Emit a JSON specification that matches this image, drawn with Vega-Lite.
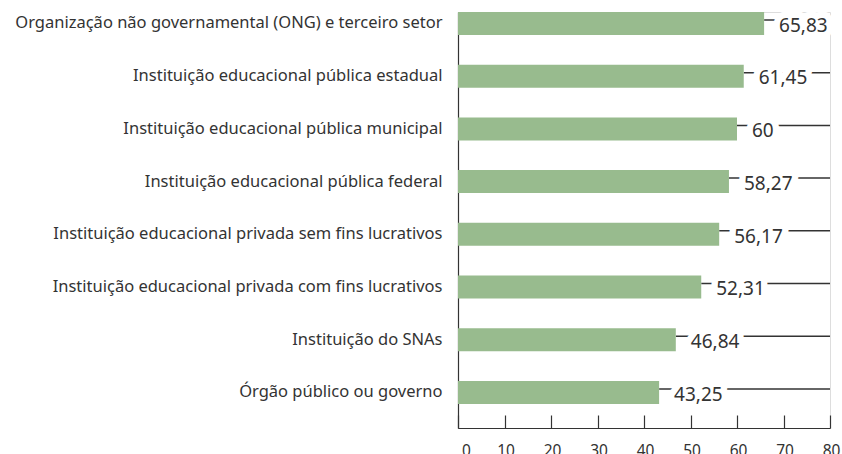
{
  "$schema": "https://vega.github.io/schema/vega-lite/v6.json",
  "autosize": {"type": "none"},
  "padding": {"left": 458, "top": 12, "right": 12, "bottom": 26},
  "width": 372,
  "height": 416,
  "background": "white",
  "data": {
    "values": [
      {"categoria": "Organização não governamental (ONG) e terceiro setor", "valor": 65.83, "rotulo": "65,83"},
      {"categoria": "Instituição educacional pública estadual", "valor": 61.45, "rotulo": "61,45"},
      {"categoria": "Instituição educacional pública municipal", "valor": 60, "rotulo": "60"},
      {"categoria": "Instituição educacional pública federal", "valor": 58.27, "rotulo": "58,27"},
      {"categoria": "Instituição educacional privada sem fins lucrativos", "valor": 56.17, "rotulo": "56,17"},
      {"categoria": "Instituição educacional privada com fins lucrativos", "valor": 52.31, "rotulo": "52,31"},
      {"categoria": "Instituição do SNAs", "valor": 46.84, "rotulo": "46,84"},
      {"categoria": "Órgão público ou governo", "valor": 43.25, "rotulo": "43,25"}
    ]
  },
  "encoding": {
    "y": {
      "field": "categoria", "type": "nominal", "sort": null, "title": null,
      "scale": {"paddingInner": 0.5636, "paddingOuter": 0.2288, "align": 0},
      "axis": {"ticks": false, "domain": true, "domainColor": "#333333", "domainWidth": 1.2, "labelPadding": 16, "labelFontSize": 16.5, "labelFont": "Noto Sans", "labelColor": "#333333", "labelLimit": 0}
    },
    "x": {
      "field": "valor", "type": "quantitative", "title": null,
      "scale": {"domain": [0, 80], "nice": false},
      "axis": {"values": [0, 10, 20, 30, 40, 50, 60, 70, 80], "grid": false, "domainColor": "#333333", "domainWidth": 1.2, "tickColor": "#333333", "tickWidth": 1.2, "tickSize": -13, "labelFlush": false, "labelPadding": 28, "labelFontSize": 15.5, "labelFont": "Noto Sans", "labelColor": "#333333", "labelOffset": {"condition": {"test": "datum.value === 0", "value": 8}, "value": 1}}
    }
  },
  "layer": [
    {
      "mark": {"type": "rule", "color": "#333333", "strokeWidth": 1.5, "yOffset": -3.5},
      "encoding": {"x2": {"datum": 80}}
    },
    {
      "mark": {"type": "bar", "color": "#98bb8e"}
    },
    {
      "mark": {"type": "text", "align": "left", "baseline": "alphabetic", "dx": 15, "dy": 8.3, "font": "Noto Sans", "fontSize": 19, "fill": "white", "stroke": "white", "strokeWidth": 13, "strokeJoin": "round"},
      "encoding": {"text": {"field": "rotulo"}}
    },
    {
      "mark": {"type": "text", "align": "left", "baseline": "alphabetic", "dx": 15, "dy": 8.3, "font": "Noto Sans", "fontSize": 19, "color": "#333333"},
      "encoding": {"text": {"field": "rotulo"}}
    }
  ]
}
